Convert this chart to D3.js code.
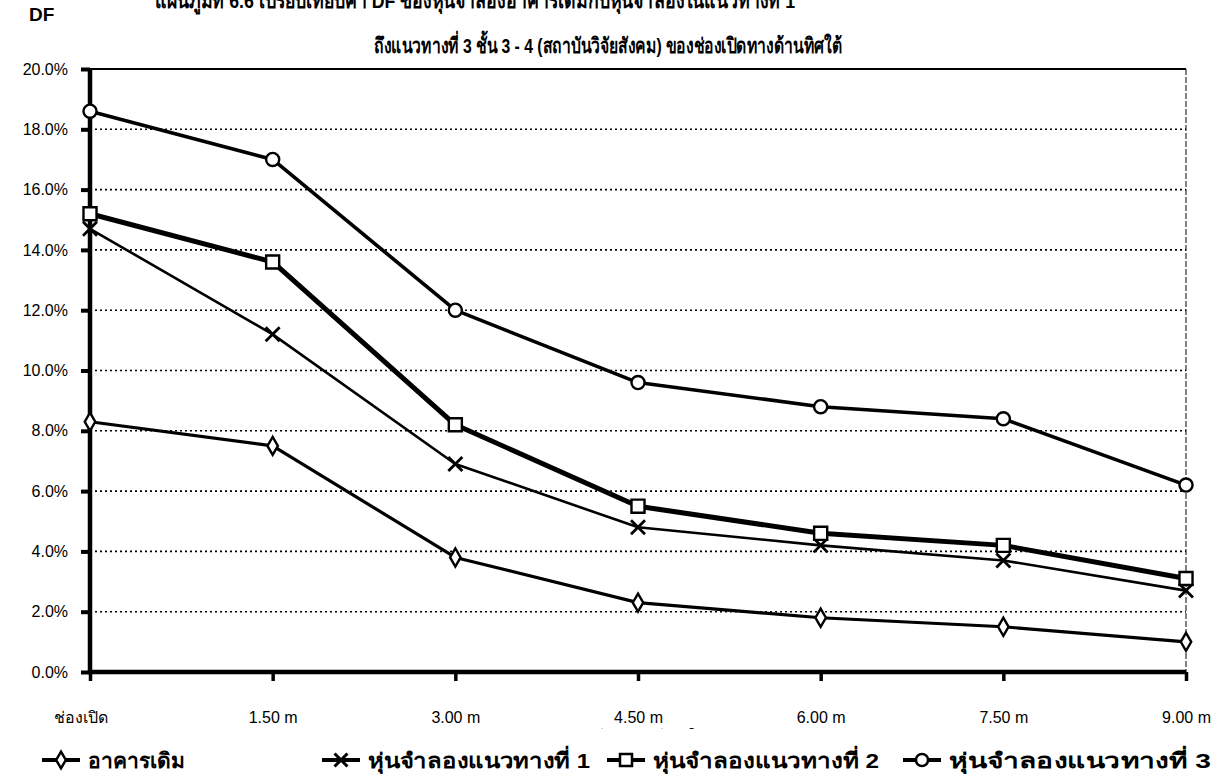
<!DOCTYPE html>
<html>
<head>
<meta charset="utf-8">
<script src="https://cdn.jsdelivr.net/npm/d3@7"></script>
<style>
  body { margin: 0; background: #fff; }
  svg { font-family: "Liberation Sans", Arial, "Noto Sans", "DejaVu Sans", sans-serif; }
</style>
</head>
<body>
<svg id="chart"></svg>
<script>
// data
const categories = ["ช่องเปิด", "1.50 m", "3.00 m", "4.50 m", "6.00 m", "7.50 m", "9.00 m"]
const original = [8.3, 7.5, 3.8, 2.3, 1.8, 1.5, 1.0]
const model1 = [14.7, 11.2, 6.9, 4.8, 4.2, 3.7, 2.7]
const model2 = [15.2, 13.6, 8.2, 5.5, 4.6, 4.2, 3.1]
const model3 = [18.6, 17.0, 12.0, 9.6, 8.8, 8.4, 6.2]
const seriesNames = ["อาคารเดิม", "หุ่นจำลองแนวทางที่ 1", "หุ่นจำลองแนวทางที่ 2", "หุ่นจำลองแนวทางที่ 3"]
const yTicks = [0, 2, 4, 6, 8, 10, 12, 14, 16, 18, 20]

const width = 1219
const height = 782
const margin = { left: 90, right: 33, top: 69, bottom: 110 }

const series = [
  { name: seriesNames[0], values: original, symbol: d3.symbolDiamond, size: 95, lw: 3.2 },
  { name: seriesNames[1], values: model1, symbol: d3.symbolX, size: 130, lw: 2.6 },
  { name: seriesNames[2], values: model2, symbol: d3.symbolSquare, size: 170, lw: 5 },
  { name: seriesNames[3], values: model3, symbol: d3.symbolCircle, size: 135, lw: 3.6 }
]

const svg = d3.select("#chart")
  .attr("width", width)
  .attr("height", height)

const x = d3.scalePoint()
  .domain(categories)
  .range([margin.left, width - margin.right])

const y = d3.scaleLinear()
  .domain([0, 20])
  .range([height - margin.bottom, margin.top])

// title (first line is cut by the page edge, as in the scan)
svg.append("text")
  .attr("x", 155).attr("y", 8)
  .attr("font-size", 21).attr("font-weight", "bold")
  .attr("textLength", 640).attr("lengthAdjust", "spacingAndGlyphs")
  .text("แผนภูมิที่ 6.6 เปรียบเทียบค่า DF ของหุ่นจำลองอาคารเดิมกับหุ่นจำลองในแนวทางที่ 1")
svg.append("text")
  .attr("x", 374).attr("y", 53)
  .attr("font-size", 21).attr("font-weight", "bold")
  .attr("textLength", 468).attr("lengthAdjust", "spacingAndGlyphs")
  .text("ถึงแนวทางที่ 3 ชั้น 3 - 4 (สถาบันวิจัยสังคม) ของช่องเปิดทางด้านทิศใต้")

svg.append("text")
  .attr("x", 29).attr("y", 21)
  .attr("font-size", 19).attr("font-weight", "bold")
  .text("DF")

// grid
svg.append("g")
  .selectAll("line")
  .data(yTicks.filter(t => t > 0 && t < 20))
  .enter()
  .append("line")
  .attr("x1", margin.left).attr("x2", width - margin.right)
  .attr("y1", d => y(d)).attr("y2", d => y(d))
  .attr("stroke", "#000")
  .attr("stroke-width", 1.6)
  .attr("stroke-dasharray", "2,3")

// top and right frame
svg.append("line")
  .attr("x1", margin.left).attr("x2", width - margin.right)
  .attr("y1", y(20)).attr("y2", y(20))
  .attr("stroke", "#000").attr("stroke-width", 2)
svg.append("line")
  .attr("x1", width - margin.right).attr("x2", width - margin.right)
  .attr("y1", y(20)).attr("y2", y(0))
  .attr("stroke", "#000").attr("stroke-width", 1)
  .attr("stroke-dasharray", "6,2")

// y axis
const yAxis = svg.append("g")
  .attr("transform", `translate(${margin.left},0)`)
  .call(d3.axisLeft(y).tickValues(yTicks).tickSize(9).tickSizeOuter(0).tickFormat(d => d.toFixed(1) + "%"))
yAxis.selectAll(".tick line").style("stroke-width", "4px")
yAxis.selectAll(".tick text")
  .style("font-size", "16px")
  .attr("x", -22)
  .attr("fill", "#000")

// x axis
const xAxis = svg.append("g")
  .attr("transform", `translate(0,${y(0)})`)
  .call(d3.axisBottom(x).tickSize(9).tickSizeOuter(0))
xAxis.selectAll(".tick line").style("stroke-width", "3.5px")
xAxis.selectAll(".tick text")
  .style("font-size", "16px")
  .attr("y", 40)
  .attr("fill", "#000")
xAxis.select(".tick text").attr("dx", -10)

// heavy axis lines of the scan
svg.append("line")
  .attr("x1", margin.left).attr("x2", margin.left)
  .attr("y1", y(20) - 1).attr("y2", y(0) + 2)
  .attr("stroke", "#000").attr("stroke-width", 4.5)
svg.append("line")
  .attr("x1", margin.left - 2).attr("x2", width - margin.right)
  .attr("y1", y(0)).attr("y2", y(0))
  .attr("stroke", "#000").attr("stroke-width", 4.5)

// x axis title, mostly hidden behind the legend box
svg.append("text")
  .attr("x", 633).attr("y", 742)
  .attr("text-anchor", "middle")
  .attr("font-size", 17)
  .text("ระยะห่างจากช่องเปิด")

// lines and markers
const line = d3.line()
  .x((d, i) => x(categories[i]))
  .y(d => y(d))

const sg = svg.append("g")
  .selectAll("g")
  .data(series)
  .enter()
  .append("g")

sg.append("path")
  .attr("d", d => line(d.values))
  .attr("fill", "none")
  .attr("stroke", "#000")
  .attr("stroke-width", d => d.lw)
  .attr("stroke-linejoin", "round")

sg.each(function (s) {
  d3.select(this).selectAll("path.mark")
    .data(s.values)
    .enter()
    .append("path")
    .attr("class", "mark")
    .attr("transform", (d, i) => `translate(${x(categories[i])},${y(d)})`)
    .attr("d", d3.symbol().type(s.symbol).size(s.size))
    .attr("fill", s.symbol === d3.symbolX ? "none" : "#fff")
    .attr("stroke", "#000")
    .attr("stroke-width", s.symbol === d3.symbolX ? 2.8 : 2.4)
})

// legend
svg.append("rect")
  .attr("x", 30).attr("y", 729)
  .attr("width", 1189).attr("height", 53)
  .attr("fill", "#fff")

const legendX = [42, 322, 607, 903]
const legendW = [97, 222, 226, 262]
const legend = svg.append("g")
  .selectAll("g")
  .data(series)
  .enter()
  .append("g")
  .attr("transform", (d, i) => `translate(${legendX[i]},760)`)

legend.append("line")
  .attr("x1", 0).attr("x2", 38)
  .attr("stroke", "#000")
  .attr("stroke-width", 4)
legend.append("path")
  .attr("transform", "translate(19,0)")
  .attr("d", d => d3.symbol().type(d.symbol).size(d.size * 0.85)())
  .attr("fill", d => d.symbol === d3.symbolX ? "none" : "#fff")
  .attr("stroke", "#000")
  .attr("stroke-width", d => d.symbol === d3.symbolX ? 3 : 2.5)
legend.append("text")
  .attr("x", 46).attr("y", 8)
  .attr("font-size", 21)
  .attr("font-weight", "bold")
  .attr("textLength", (d, i) => legendW[i])
  .attr("lengthAdjust", "spacingAndGlyphs")
  .text(d => d.name)
</script>
</body>
</html>
